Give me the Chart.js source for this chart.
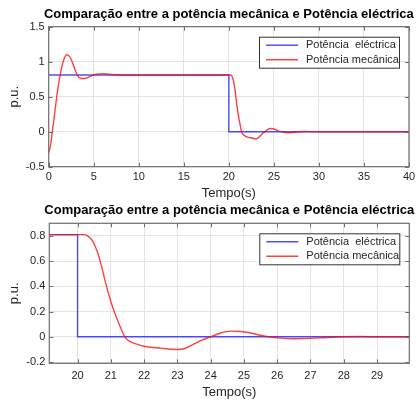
<!DOCTYPE html>
<html>
<head>
<meta charset="utf-8">
<script src="https://cdn.jsdelivr.net/npm/chart.js@4.4.1/dist/chart.umd.min.js"></script>
<style>
  html, body { margin: 0; padding: 0; background: #fff; }
  body { width: 420px; height: 401px; position: relative; overflow: hidden; }
  canvas { position: absolute; left: 0; }
</style>
</head>
<body>
<canvas id="chartTop" width="420" height="205" style="top:0"></canvas>
<canvas id="chartZoom" width="420" height="201" style="top:200px"></canvas>
<script>
// simulation data
const tempo = [0, 0.2, 0.4, 0.7, 1.0, 1.3, 1.6, 2.0, 2.4, 2.8, 3.2, 3.6, 4.0, 4.6, 5.3,
  6.0, 6.7, 7.5, 9, 20, 20.2, 20.3, 20.45, 20.6, 20.7, 20.85, 21.0, 21.1, 21.25, 21.42,
  21.6, 21.8, 22.0, 22.5, 23.0, 23.2, 23.4, 23.7, 24.0, 24.3, 24.6, 24.9, 25.2, 25.5, 25.75,
  26.1, 26.5, 27.0, 27.5, 28.0, 28.5, 29, 30, 40];
const potMecanica = [-0.30, -0.2, 0.0, 0.3, 0.6, 0.83, 1.0, 1.1, 1.06, 0.93, 0.8, 0.76, 0.76, 0.79, 0.82,
  0.83, 0.82, 0.81, 0.81, 0.81, 0.81, 0.80, 0.76, 0.67, 0.58, 0.42, 0.28, 0.2, 0.1, 0.0,
  -0.04, -0.06, -0.075, -0.09, -0.1, -0.095, -0.07, -0.03, 0.0, 0.03, 0.045, 0.042, 0.03, 0.012, 0.0,
  -0.01, -0.015, -0.012, -0.005, 0.0, 0.002, 0, 0, 0];
const tempoElec = [0, 20, 20, 40];
const potElectrica = [0.81, 0.81, 0, 0];

const legendLabels = ["Potência  eléctrica", "Potência mecânica"];
const titulo = "Comparação entre a potência mecânica e Potência eléctrica";
const FONT = "'Liberation Sans', Arial, sans-serif";
const AXIS_COLOR = "#6e6e6e";

function toPoints(xs, ys) {
  return xs.map((x, i) => ({ x: x, y: ys[i] }));
}

// box, inward ticks, title and legend like matlab
const matlabLook = {
  id: "matlabLook",
  afterDatasetsDraw(chart, args, opts) {
    const ctx = chart.ctx;
    const a = chart.chartArea;
    const xs = chart.scales.x, ys = chart.scales.y;
    ctx.save();
    ctx.strokeStyle = AXIS_COLOR;
    ctx.lineWidth = 1;
    ctx.beginPath();
    xs.ticks.forEach(t => {
      const px = Math.round(xs.getPixelForValue(t.value)) + 0.5;
      ctx.moveTo(px, a.bottom); ctx.lineTo(px, a.bottom - 4);
      ctx.moveTo(px, a.top); ctx.lineTo(px, a.top + 4);
    });
    ys.ticks.forEach(t => {
      const py = Math.round(ys.getPixelForValue(t.value)) + 0.5;
      ctx.moveTo(a.left, py); ctx.lineTo(a.left + 4, py);
      ctx.moveTo(a.right, py); ctx.lineTo(a.right - 4, py);
    });
    ctx.stroke();
    ctx.lineWidth = 1.2;
    ctx.strokeRect(a.left, a.top, a.right - a.left, a.bottom - a.top);

    // legend
    const lw = 140, lh = 31;
    const lx = a.right - 10 - lw, ly = a.top + 10;
    ctx.fillStyle = "#fff";
    ctx.fillRect(lx, ly, lw, lh);
    ctx.strokeStyle = "#333";
    ctx.lineWidth = 1;
    ctx.strokeRect(lx + 0.5, ly + 0.5, lw, lh);
    ctx.font = "11px " + FONT;
    ctx.textBaseline = "middle";
    ctx.textAlign = "left";
    chart.data.datasets.forEach((ds, i) => {
      const yy = ly + 8.5 + i * 14.5;
      ctx.strokeStyle = ds.borderColor;
      ctx.lineWidth = 1.5;
      ctx.beginPath();
      ctx.moveTo(lx + 7, yy); ctx.lineTo(lx + 39, yy);
      ctx.stroke();
      ctx.fillStyle = "#262626";
      ctx.fillText(ds.label, lx + 47, yy);
    });

    // title centred on the axes
    ctx.font = "bold 13px " + FONT;
    ctx.fillStyle = "#000";
    ctx.textAlign = "center";
    ctx.fillText(titulo, (a.left + a.right) / 2, opts.titleY);
    ctx.restore();
  }
};

function makeChart(id, o) {
  const ctx = document.getElementById(id).getContext("2d");
  return new Chart(ctx, {
    type: "scatter",
    data: {
      datasets: [
        {
          label: legendLabels[0],
          data: toPoints(tempoElec, potElectrica),
          borderColor: "rgba(20,20,255,0.75)",
          borderWidth: 1.4,
          showLine: true,
          pointRadius: 0,
          tension: 0,
          order: 1,
        },
        {
          label: legendLabels[1],
          data: toPoints(tempo, potMecanica),
          borderColor: "rgba(255,10,10,0.78)",
          borderWidth: 1.4,
          showLine: true,
          pointRadius: 0,
          cubicInterpolationMode: "monotone",
          order: 0,
        },
      ],
    },
    options: {
      responsive: false,
      animation: false,
      events: [],
      layout: { padding: { top: o.top, right: o.right, left: 0, bottom: 0 } },
      scales: {
        x: {
          type: "linear",
          min: o.xMin, max: o.xMax,
          grid: { color: "#e3e3e3", drawTicks: false },
          border: { display: false },
          ticks: {
            stepSize: o.xStep, includeBounds: false, padding: o.xPad,
            maxRotation: 0, color: "#262626", font: { family: FONT, size: 11 },
          },
          title: {
            display: true, text: "Tempo(s)", color: "#262626",
            font: { family: FONT, size: 13 }, padding: { top: 0, bottom: o.titlePad },
          },
          afterFit(scale) { scale.height = o.xHeight; },
        },
        y: {
          min: o.yMin, max: o.yMax,
          grid: { color: "#e3e3e3", drawTicks: false },
          border: { display: false },
          ticks: {
            stepSize: o.yStep, includeBounds: false, padding: 4,
            color: "#262626", font: { family: FONT, size: 11 },
            callback: v => Number(v.toFixed(2)).toString(),
          },
          title: {
            display: true, text: "p.u.", color: "#262626",
            font: { family: FONT, size: 13 }, padding: { top: 7, bottom: 0 },
          },
          afterFit(scale) { scale.width = o.yWidth; },
        },
      },
      plugins: {
        legend: { display: false },
        tooltip: { enabled: false },
        matlabLook: { titleY: o.titleY },
      },
    },
    plugins: [matlabLook],
  });
}

// full simulation
makeChart("chartTop", {
  top: 26.7, right: 11, yWidth: 48.7, xHeight: 205 - 166.7,
  xMin: 0, xMax: 40, xStep: 5, yMin: -0.5, yMax: 1.5, yStep: 0.5,
  xPad: 4, titlePad: 4, titleY: 14,
});

// zoom around the disturbance
makeChart("chartZoom", {
  top: 23.3, right: 10.7, yWidth: 49.3, xHeight: 201 - 163.3,
  xMin: 19.15, xMax: 29.97, xStep: 1, yMin: -0.21, yMax: 0.9, yStep: 0.2,
  xPad: 6, titlePad: 1, titleY: 10,
});
</script>
</body>
</html>
